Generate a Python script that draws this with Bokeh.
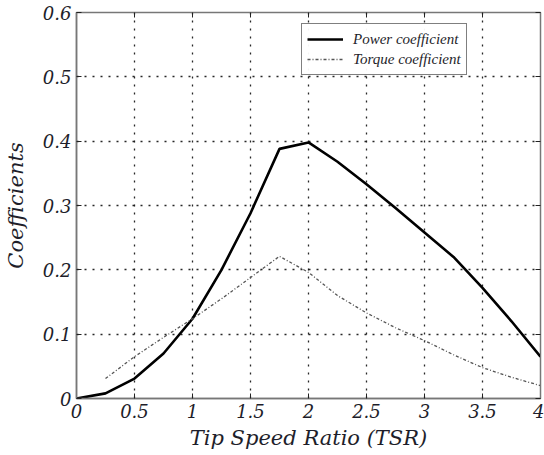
from bokeh.plotting import figure
from bokeh.models import FixedTicker, LinearAxis, Legend, LegendItem, CustomLabelingPolicy
from bokeh.embed import file_html
from bokeh.resources import INLINE

tsr = [0, 0.25, 0.5, 0.75, 1.0, 1.25, 1.5, 1.75, 2.0, 2.25, 2.5, 2.75, 3.0, 3.25, 3.5, 3.75, 4.0]
power = [0.0, 0.008, 0.031, 0.07, 0.124, 0.2, 0.288, 0.388, 0.398, 0.368, 0.333, 0.296, 0.258, 0.22, 0.172, 0.12, 0.065]
tsr_t = [0.25, 0.5, 0.75, 1.0, 1.25, 1.5, 1.75, 2.0, 2.25, 2.5, 2.75, 3.0, 3.25, 3.5, 3.75, 4.0]
torque = [0.031, 0.065, 0.095, 0.124, 0.155, 0.188, 0.221, 0.196, 0.16, 0.133, 0.11, 0.09, 0.068, 0.048, 0.033, 0.02]

x_ticks = [0, 0.5, 1, 1.5, 2, 2.5, 3, 3.5, 4]
x_labels = ["0", "0.5", "1", "1.5", "2", "2.5", "3", "3.5", "4"]
y_ticks = [0, 0.1, 0.2, 0.3, 0.4, 0.5, 0.6]
y_labels = ["0", "0.1", "0.2", "0.3", "0.4", "0.5", "0.6"]

AXFONT = "DejaVu Serif"
LEGFONT = "Liberation Serif"
TXT = "#1e1e2a"

p = figure(width=544, height=455, x_range=(0, 4), y_range=(0, 0.6),
           output_backend="svg", toolbar_location=None,
           min_border_left=76, min_border_right=0, min_border_top=12, min_border_bottom=57)
p.background_fill_color = "white"
p.border_fill_color = "white"
p.outline_line_color = "#777777"
p.outline_line_width = 1.5

for ax, ticks, labels in ((p.xaxis[0], x_ticks, x_labels), (p.yaxis[0], y_ticks, y_labels)):
    ax.ticker = FixedTicker(ticks=ticks)
    ax.major_label_overrides = {t: l for t, l in zip(ticks, labels)}
    ax.minor_tick_line_color = None
    ax.major_tick_in = 5
    ax.major_tick_out = 0
    ax.major_tick_line_color = "#222222"
    ax.axis_line_color = "#777777"
    ax.axis_line_width = 1.5
    ax.major_label_text_font = AXFONT
    ax.major_label_text_font_style = "italic"
    ax.major_label_text_font_size = "18px"
    ax.major_label_text_color = TXT
    ax.major_label_standoff = 5
    ax.axis_label_text_font = AXFONT
    ax.axis_label_text_font_style = "italic"
    ax.axis_label_text_font_size = "21px"
    ax.axis_label_text_color = TXT

p.xaxis.axis_label = "Tip Speed Ratio (TSR)"
p.xaxis.axis_label_standoff = 5
p.yaxis.axis_label = "Coefficients"
p.yaxis.axis_label_standoff = 12

# tick marks on top and right, without labels
hide_all = CustomLabelingPolicy(code="""
    for (const i of indices) indices.unset(i)
    return indices
""")
for loc, ticks in (("above", x_ticks), ("right", y_ticks)):
    a = LinearAxis(ticker=FixedTicker(ticks=ticks))
    a.major_label_policy = hide_all
    a.major_label_text_font_size = "1px"
    a.major_label_standoff = 0
    a.major_tick_in = 5
    a.major_tick_out = 0
    a.minor_tick_line_color = None
    a.axis_line_color = "#777777"
    a.major_tick_line_color = "#222222"
    p.add_layout(a, loc)

p.xgrid.ticker = FixedTicker(ticks=x_ticks)
p.ygrid.ticker = FixedTicker(ticks=y_ticks)
for g in (p.xgrid[0], p.ygrid[0]):
    g.grid_line_color = "#111111"
    g.grid_line_dash = "2 6"
    g.grid_line_width = 1.3
    g.grid_line_alpha = 0.9

r1 = p.line(tsr, power, line_color="black", line_width=2.6)
r2 = p.line(tsr_t, torque, line_color="#555555", line_width=1.3, line_dash="3 2 1 2")

legend = Legend(items=[LegendItem(label="Power coefficient", renderers=[r1]),
                       LegendItem(label="Torque coefficient", renderers=[r2])],
                location=(225, 323))
legend.label_text_font = LEGFONT
legend.label_text_font_style = "italic"
legend.label_text_font_size = "15px"
legend.label_text_color = TXT
legend.glyph_width = 36
legend.glyph_height = 20
legend.label_height = 20
legend.label_standoff = 10
legend.spacing = 0
legend.padding = 5
legend.margin = 0
legend.border_line_color = "black"
legend.border_line_width = 1
legend.background_fill_color = "white"
p.add_layout(legend, "center")

open("out.html", "w").write(file_html(p, INLINE))
